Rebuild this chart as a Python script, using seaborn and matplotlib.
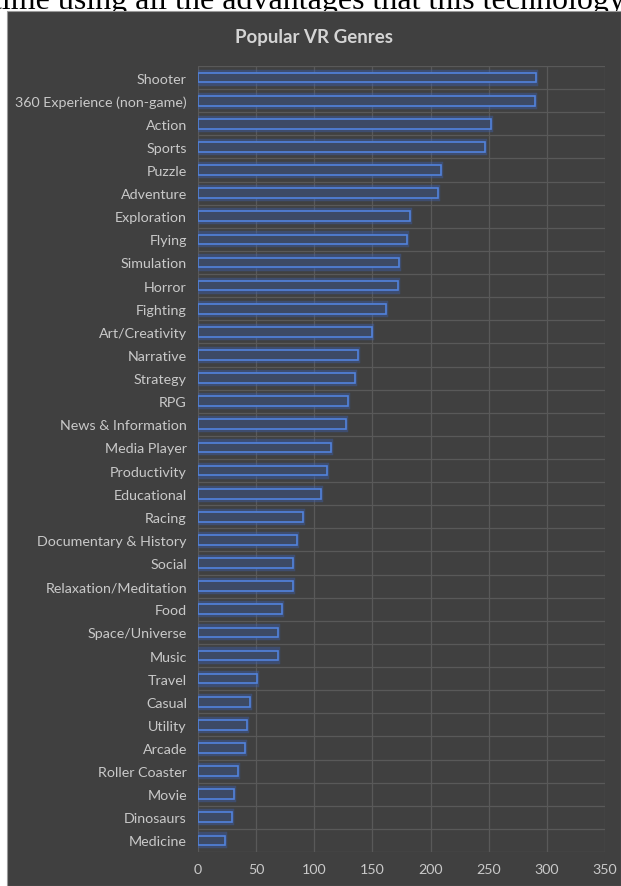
import matplotlib
matplotlib.use('Agg')
import matplotlib.pyplot as plt
import seaborn as sns
import pandas as pd
from matplotlib.patches import Rectangle

# --- data ---
genres = ['Shooter', '360 Experience (non-game)', 'Action', 'Sports', 'Puzzle',
          'Adventure', 'Exploration', 'Flying', 'Simulation', 'Horror', 'Fighting',
          'Art/Creativity', 'Narrative', 'Strategy', 'RPG', 'News & Information',
          'Media Player', 'Productivity', 'Educational', 'Racing',
          'Documentary & History', 'Social', 'Relaxation/Meditation', 'Food',
          'Space/Universe', 'Music', 'Travel', 'Casual', 'Utility', 'Arcade',
          'Roller Coaster', 'Movie', 'Dinosaurs', 'Medicine']
counts = [291, 290, 252, 247, 209, 206, 182, 180, 173, 172, 162, 150, 138, 135,
          129, 127, 114, 111, 106, 90, 85, 82, 82, 72, 69, 69, 51, 45, 42, 40,
          34, 31, 29, 23]
x_ticks = [0, 50, 100, 150, 200, 250, 300, 350]

df = pd.DataFrame({'genre': genres, 'count': counts})

sns.set_theme(style='white')
plt.rcParams['font.family'] = ['Lato', 'DejaVu Sans']

panel = '#404040'
text_col = '#c9c9c9'
grid_col = '#595959'

fig = plt.figure(figsize=(6.21, 8.87), dpi=100)
fig.patch.set_facecolor('white')

# cropped line of text above the chart (cut off by the chart panel, as in the source)
fig.text(0.497, 1 - 9 / 887, 'time using all the advantages that this technology',
         ha='center', va='baseline', fontsize=23, color='black',
         family='Liberation Serif', zorder=0)
fig.patches.append(Rectangle((7 / 621, 0), 1 - 7 / 621, 1 - 12 / 887,
                             transform=fig.transFigure, facecolor=panel,
                             edgecolor='#9a9a9a', linewidth=0.8, zorder=1))

ax = fig.add_axes([198 / 621, 1 - 853 / 887, (605 - 198) / 621, (853 - 67) / 887])
ax.set_zorder(2)
ax.set_facecolor('none')

# soft glow under the outline
sns.barplot(data=df, y='genre', x='count', orient='h', width=0.52,
            color='#2f3f66', edgecolor='#3b62b8', linewidth=3.2, alpha=0.4,
            ax=ax)
sns.barplot(data=df, y='genre', x='count', orient='h', width=0.42,
            color='#36476c', edgecolor='#5283dc', linewidth=1.2, ax=ax)

ax.set_xlim(0, 350)
ax.set_ylim(len(genres) - 0.5, -0.5)
ax.set_xticks(x_ticks)
ax.set_yticks(range(len(genres)), genres)
ax.set_yticks([i + 0.5 for i in range(-1, len(genres))], minor=True)
ax.grid(True, axis='x', color=grid_col, linewidth=0.9)
ax.grid(True, axis='y', which='minor', color=grid_col, linewidth=0.9)
ax.set_axisbelow(True)
ax.tick_params(axis='both', which='both', length=0, colors=text_col, labelsize=10.3)
ax.tick_params(axis='y', pad=8)
ax.tick_params(axis='x', pad=8)
ax.set_xlabel('')
ax.set_ylabel('')
for s in ax.spines.values():
    s.set_visible(False)

fig.text((7 / 621 + 1) / 2, 1 - 37 / 887, 'Popular VR Genres', ha='center',
         va='center', fontsize=13.5, fontweight='bold', color='#d4d4d4', zorder=3)

fig.savefig('out.png', dpi=100, facecolor=fig.get_facecolor())
